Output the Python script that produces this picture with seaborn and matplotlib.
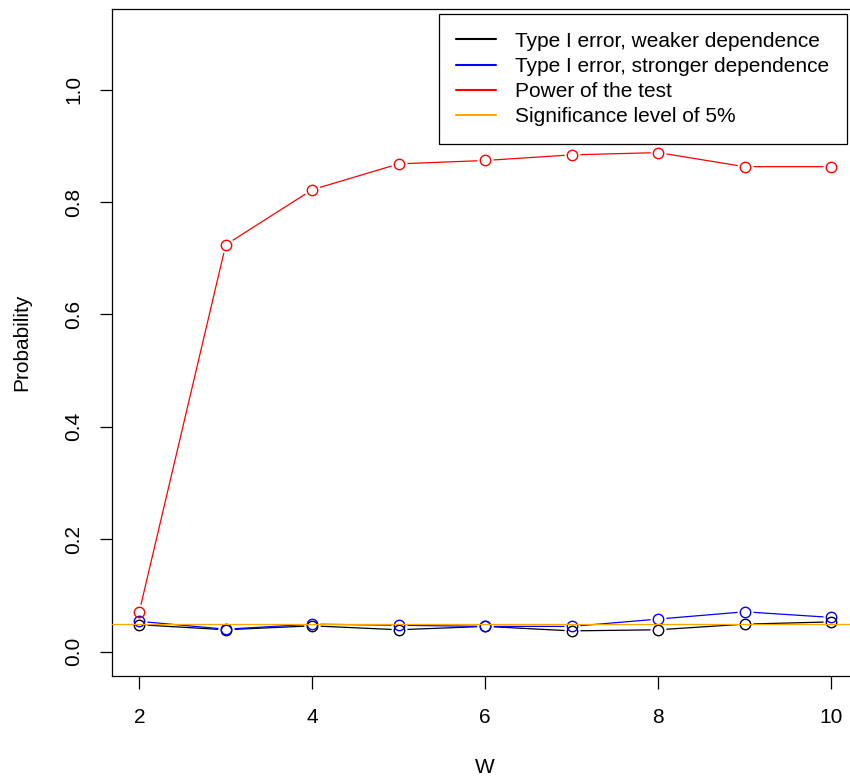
import numpy as np
import pandas as pd
import matplotlib
matplotlib.use('Agg')
import matplotlib.pyplot as plt
import seaborn as sns
from matplotlib.lines import Line2D

# values
w = [2, 3, 4, 5, 6, 7, 8, 9, 10]
type1_weak = [0.048, 0.039, 0.046, 0.039, 0.045, 0.037, 0.039, 0.049, 0.053]
type1_strong = [0.054, 0.040, 0.049, 0.047, 0.045, 0.045, 0.058, 0.071, 0.061]
power = [0.071, 0.724, 0.822, 0.868, 0.874, 0.884, 0.888, 0.863, 0.863]
alpha = 0.05

series_names = ['Type I error, weaker dependence',
                'Type I error, stronger dependence',
                'Power of the test']
series_colors = ['black', 'blue', 'red']

df = pd.DataFrame({
    'W': w * 3,
    'value': type1_weak + type1_strong + power,
    'series': np.repeat(series_names, len(w)),
})

sns.set_style('ticks')
plt.rcParams['font.family'] = ['Liberation Sans', 'DejaVu Sans']
plt.rcParams.update({'text.color': 'black', 'axes.labelcolor': 'black',
                     'xtick.color': 'black', 'ytick.color': 'black'})
fs = 15

fig = plt.figure(figsize=(8.5, 7.8), dpi=100)
ax = fig.add_axes([0.1313, 0.1328, 0.879, 0.856])

# R style type="b": line with a small gap around each open circle
for name, col in zip(series_names, series_colors):
    sub = df[df['series'] == name]
    sns.lineplot(data=sub, x='W', y='value', color=col, lw=0.9, ax=ax,
                 zorder=2, legend=False)
    ax.plot(sub['W'], sub['value'], ls='none', marker='o', ms=10.5,
            mfc='white', mec='white', zorder=3)
for name, col in zip(series_names, series_colors):
    sub = df[df['series'] == name]
    ax.plot(sub['W'], sub['value'], ls='none', marker='o', ms=7.5,
            mfc='none', mec=col, mew=1.0, zorder=5)

ax.axhline(alpha, color='orange', lw=0.9, zorder=10)

ax.set_xlim(1.68, 10.32)
ax.set_ylim(-0.044, 1.144)
ax.set_xticks([2, 4, 6, 8, 10])
ax.set_yticks([0.0, 0.2, 0.4, 0.6, 0.8, 1.0])
ax.set_yticklabels(['0.0', '0.2', '0.4', '0.6', '0.8', '1.0'], rotation=90, va='center')
ax.tick_params(labelsize=fs, length=9, width=0.9, color='black', labelcolor='black')
ax.tick_params(axis='x', pad=14)
ax.tick_params(axis='y', pad=11.5)
for s in ax.spines.values():
    s.set_linewidth(0.9)
    s.set_color('black')

ax.set_xlabel('W', fontsize=fs, labelpad=22)
ax.set_ylabel('Probability', fontsize=fs, labelpad=24)

handles = [Line2D([], [], color=c, lw=1.5) for c in series_colors + ['orange']]
labels = series_names + ['Significance level of 5%']
leg = ax.legend(handles, labels, loc='upper right', bbox_to_anchor=(0.9843, 0.992),
                fontsize=fs, frameon=True, fancybox=False, edgecolor='black',
                framealpha=1, handlelength=1.92, handletextpad=0.9,
                borderpad=0.85, labelspacing=0.29, borderaxespad=0)
leg.get_frame().set_linewidth(0.9)

fig.savefig('out.png', dpi=100)
